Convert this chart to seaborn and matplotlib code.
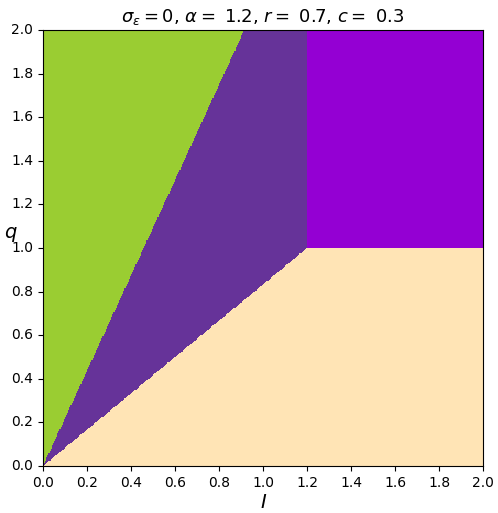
"""
Region map in the (I, q) plane for sigma_eps = 0, alpha = 1.2, r = 0.7, c = 0.3.
"""

import numpy as np
import seaborn as sns
import matplotlib
matplotlib.use("Agg")
import matplotlib.pyplot as plt
from matplotlib.colors import ListedColormap

# parameters shown in the title
alpha = 1.2
r = 0.7
c = 0.3

# boundaries
I_max = 2.0
q_max = 2.0
I_green_top = 0.915      # green / purple edge hits q = 2 here
I_split = 1.2            # vertical edge of the dark violet block
q_split = 1.0            # horizontal edge of the dark violet block

region_names = ["low", "middle", "upper right", "steep"]
region_colors = ["moccasin", "rebeccapurple", "darkviolet", "yellowgreen"]
tick_values = [0.0, 0.2, 0.4, 0.6, 0.8, 1.0, 1.2, 1.4, 1.6, 1.8, 2.0]

N = 400


def main():
    I = (np.arange(N) + 0.5) * I_max / N
    q = (np.arange(N) + 0.5) * q_max / N
    II, QQ = np.meshgrid(I, q)

    slope = q_max / I_green_top
    grid = np.zeros_like(II, dtype=int)
    grid[QQ >= II / alpha] = 1
    grid[(II >= I_split) & (QQ >= q_split)] = 2
    grid[QQ > slope * II] = 3

    fig = plt.figure(figsize=(4.98, 5.13), dpi=100)
    ax = fig.add_axes([0.0863, 0.0916, 0.8841, 0.8499])
    sns.heatmap(grid, cmap=ListedColormap(region_colors), vmin=-0.5, vmax=3.5,
                cbar=False, ax=ax, rasterized=True)
    ax.invert_yaxis()

    pos = [v / I_max * N for v in tick_values]
    ax.set_xticks(pos)
    ax.set_xticklabels([f"{v:.1f}" for v in tick_values], rotation=0)
    pos = [v / q_max * N for v in tick_values]
    ax.set_yticks(pos)
    ax.set_yticklabels([f"{v:.1f}" for v in tick_values], rotation=0)
    ax.tick_params(length=3.5, width=0.8, labelsize=10)
    for s in ax.spines.values():
        s.set_visible(True)
        s.set_linewidth(0.8)
        s.set_color("black")

    ax.set_xlabel("$I$", fontsize=14, labelpad=2)
    ax.set_ylabel("$q$", fontsize=14, rotation=0, ha="center", va="center")
    ax.yaxis.set_label_coords(-0.074, 0.532)
    ax.set_title(rf"$\sigma_\epsilon = 0$, $\alpha = $ {alpha}, $r = $ {r}, $c = $ {c}",
                 fontsize=13)

    fig.savefig("out.png", dpi=100)
    plt.close(fig)


if __name__ == "__main__":
    main()
